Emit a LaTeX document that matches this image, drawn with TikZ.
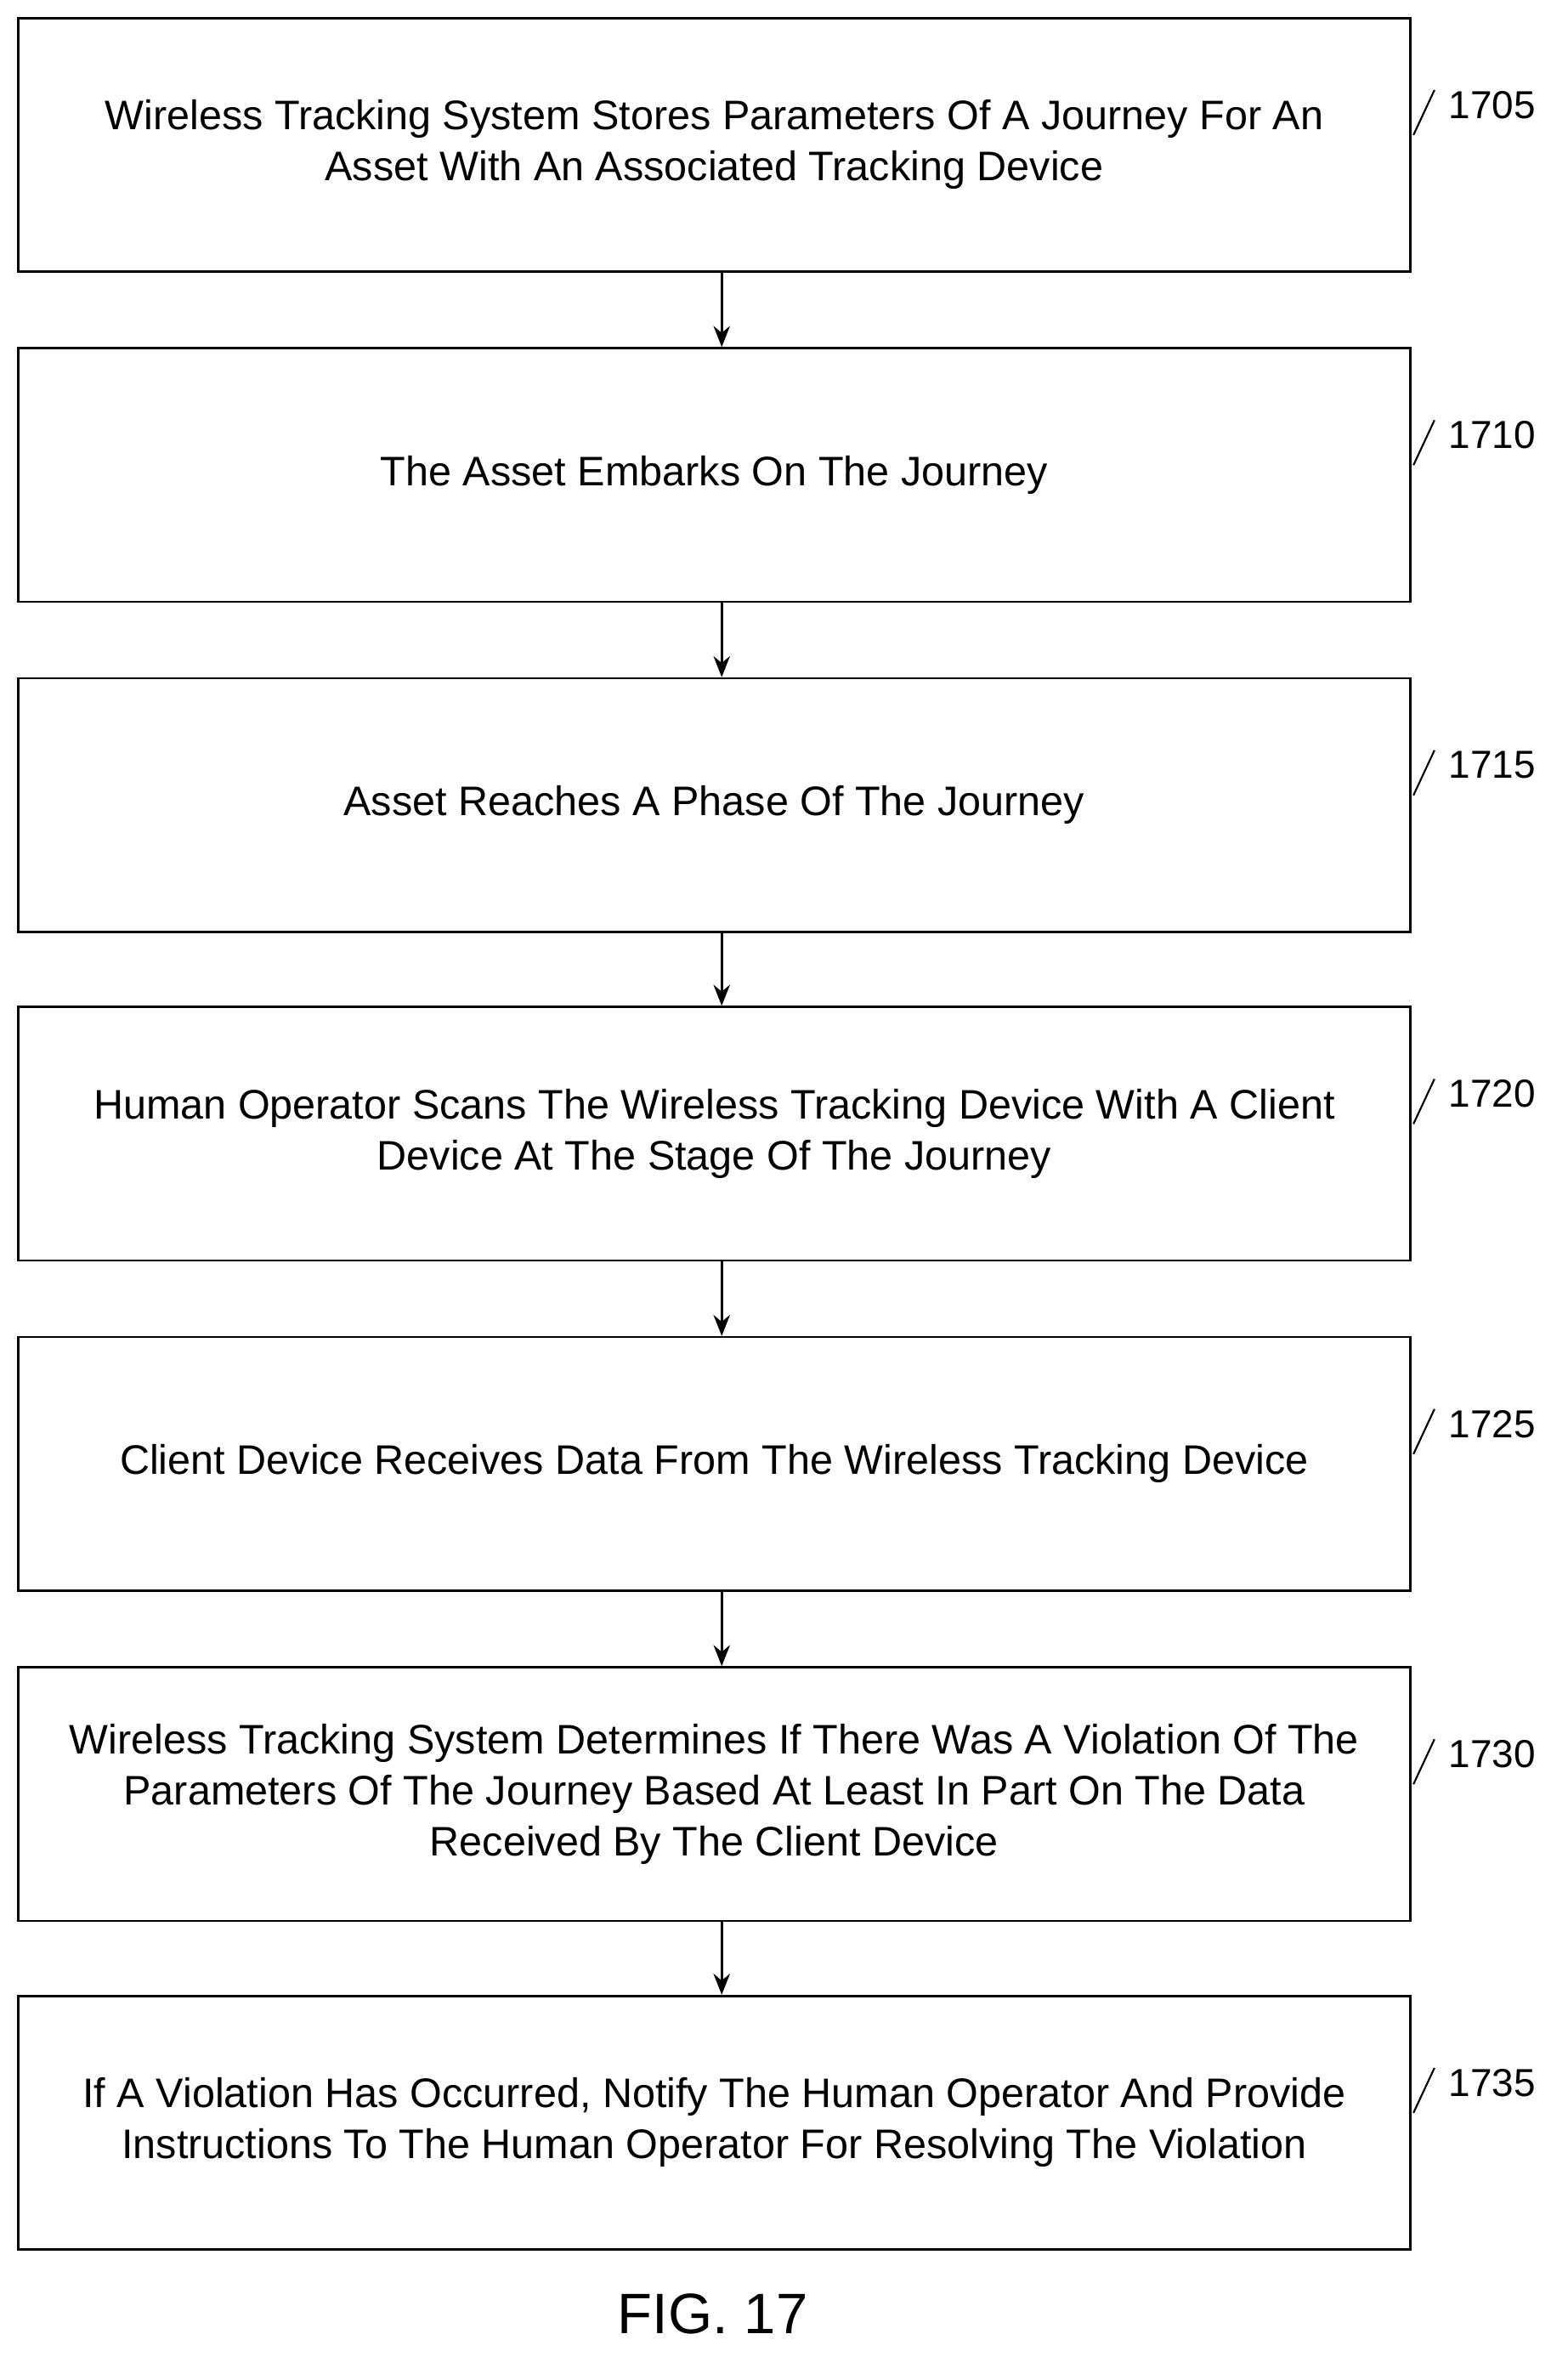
\documentclass[tikz,border=0pt]{standalone}
\usepackage{fontspec}
\usetikzlibrary{arrows.meta}
\setmainfont{Liberation Sans}
\begin{document}
\begin{tikzpicture}[x=1pt,y=-1pt,
  box/.style={draw,line width=1.5pt,minimum width=928pt,minimum height=169pt,align=center,font=\fontsize{27.5}{34}\selectfont,inner sep=0pt},
  arr/.style={line width=1.5pt,-{Stealth[length=14pt,width=11pt]}},
  tick/.style={line width=1.2pt},
  lab/.style={font=\fontsize{26}{30}\selectfont,anchor=west}]
\useasboundingbox (0,0) rectangle (1045,1578);
\def\bx#1#2#3#4{%
  \node[box] (#1) at (476,#2+84.5) {#3};
  \draw[tick] (942,#2+78) coordinate (#1a) -- (956,#2+48) coordinate (#1b);
  \node[lab] (#1l) at (962,#2+58) {#4};}
\bx{b1}{12}{Wireless Tracking System Stores Parameters Of A Journey For An\\Asset With An Associated Tracking Device}{1705}
\bx{b2}{232}{The Asset Embarks On The Journey}{1710}
\bx{b3}{452}{Asset Reaches A Phase Of The Journey}{1715}
\bx{b4}{671}{Human Operator Scans The Wireless Tracking Device With A Client\\Device At The Stage Of The Journey}{1720}
\bx{b5}{891}{Client Device Receives Data From The Wireless Tracking Device}{1725}
\bx{b6}{1111}{Wireless Tracking System Determines If There Was A Violation Of The\\Parameters Of The Journey Based At Least In Part On The Data\\Received By The Client Device}{1730}
\bx{b7}{1330}{If A Violation Has Occurred, Notify The Human Operator And Provide\\Instructions To The Human Operator For Resolving The Violation}{1735}
\foreach \a/\b in {b1/b2,b2/b3,b3/b4,b4/b5,b5/b6,b6/b7}
  \draw[arr] ([xshift=5pt]\a.south) -- ([xshift=5pt]\b.north);
\node[font=\fontsize{38}{40}\selectfont] (fig) at (475,1542) {FIG. 17};
\end{tikzpicture}
\end{document}
